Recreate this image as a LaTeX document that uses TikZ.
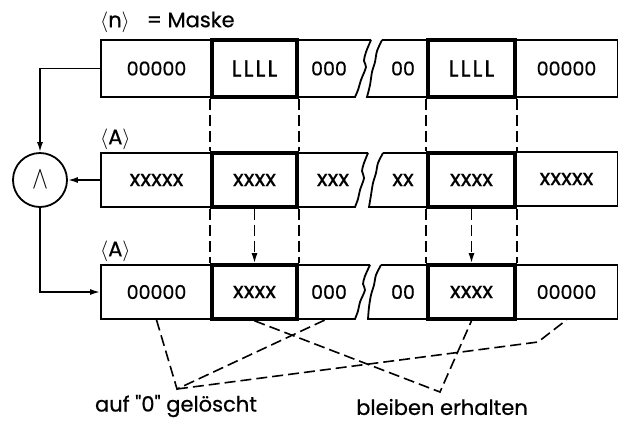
\documentclass[tikz,border=0pt]{standalone}
\usepackage{fontspec}
\usepackage{graphicx}
\newfontfamily\pop{Poppins}[FakeBold=0.6]
\usetikzlibrary{arrows.meta}
\newcommand\LLLL{{\fontsize{23}{23}\selectfont L\kern2pt L\kern2pt L\kern2pt L}}
\begin{document}
\begin{tikzpicture}[x=1pt,y=-1pt,
  txt/.style={font=\pop\fontsize{19}{19}\selectfont},
  xtxt/.style={font=\pop\fontsize{22.5}{22.5}\selectfont},
  btxt/.style={font=\pop\fontsize{21}{21}\selectfont},
  cell/.style={draw, line width=1.8pt, inner sep=0pt, txt},
  hcell/.style={draw, line width=3.6pt, inner sep=0pt, txt},
  piece/.style={draw, line width=1.8pt},
  dline/.style={line width=1.6pt, dash pattern=on 11pt off 5pt},
  conn/.style={line width=1.7pt, -{Latex[length=10pt,width=6pt]}},
  lbl/.style={anchor=west, inner sep=0pt, font=\pop\fontsize{21}{21}\selectfont}]
\useasboundingbox (0,0) rectangle (620,421);

% title labels
\node[lbl] (tn) at (100,22) {$\langle$n$\rangle$\hspace{17pt}= Maske};
\node[lbl] (ta1) at (100,139) {$\langle$A$\rangle$};
\node[lbl] (ta2) at (100,251) {$\langle$A$\rangle$};

% row 1
\node[cell, minimum width=111pt, minimum height=57pt] (r1a) at (156.5,68.5) {00000};
\draw[piece] (297,40) -- (371,40) plot[smooth] coordinates {(371,40) (366,52) (364,61) (366,67) (361,80) (358,90) (355,97)} -- (297,97);
\draw[piece] (428,40) -- (382,40) plot[smooth] coordinates {(382,40) (377,51) (375,62) (372,72) (370,85) (367,97)} -- (428,97);
\node[txt] (r1c) at (329,68.5) {000};
\node[txt] (r1d) at (403,68.5) {00};
\node[cell, minimum width=102pt, minimum height=57pt] (r1f) at (566.5,68.5) {00000};
\node[hcell, minimum width=85pt, minimum height=57pt] (r1b) at (254.5,68.5) {\LLLL};
\node[hcell, minimum width=87pt, minimum height=57pt] (r1e) at (471.5,68.5) {\LLLL};

% row 2
\node[cell, xtxt, minimum width=111pt, minimum height=54pt] (r2a) at (156.5,180) {xxxxx};
\draw[piece] (297,153) -- (368,153) plot[smooth] coordinates {(368,153) (364,163) (362,171) (364,178) (360,190) (358,199) (355,207)} -- (297,207);
\draw[piece] (428,153) -- (383,153) plot[smooth] coordinates {(383,153) (378,163) (376,173) (373,183) (371,195) (369,207)} -- (428,207);
\node[xtxt] (r2c) at (333,180) {xxx};
\node[xtxt] (r2d) at (403,180) {xx};
\node[cell, xtxt, minimum width=102pt, minimum height=54pt] (r2f) at (566.5,179) {xxxxx};
\node[hcell, xtxt, minimum width=85pt, minimum height=54pt] (r2b) at (254.5,180) {xxxx};
\node[hcell, xtxt, minimum width=87pt, minimum height=54pt] (r2e) at (471.5,180) {xxxx};

% row 3
\node[cell, minimum width=111pt, minimum height=54pt] (r3a) at (156.5,292) {00000};
\draw[piece] (297,265) -- (370,265) plot[smooth] coordinates {(370,265) (365,276) (363,284) (365,290) (360,302) (358,311) (355,319)} -- (297,319);
\draw[piece] (428,265) -- (381,265) plot[smooth] coordinates {(381,265) (376,275) (374,285) (371,295) (369,307) (368,319)} -- (428,319);
\node[txt] (r3c) at (329,292) {000};
\node[txt] (r3d) at (403,292) {00};
\node[cell, minimum width=102pt, minimum height=54pt] (r3f) at (566.5,292) {00000};
\node[hcell, xtxt, minimum width=85pt, minimum height=54pt] (r3b) at (254.5,292) {xxxx};
\node[hcell, xtxt, minimum width=87pt, minimum height=54pt] (r3e) at (471.5,292) {xxxx};

% AND circle
\node[draw, circle, line width=1.8pt, minimum size=54pt, inner sep=0pt] (and) at (40,180) {\scalebox{2.4}[3.2]{$\wedge$}};

% connectors
\draw[conn] (r1a.west) -| (and.north);
\draw[conn] (r2a.west) -- (and.east);
\draw[conn] (and.south) |- (r3a.west);

% dashed verticals
\foreach \c in {b,e} {
  \draw[dline] (r1\c.south west) -- (r2\c.north west);
  \draw[dline] (r1\c.south east) -- (r2\c.north east);
  \draw[dline] (r2\c.south west) -- (r3\c.north west);
  \draw[dline] (r2\c.south east) -- (r3\c.north east);
  \draw[dline, -{Latex[length=10pt,width=6pt]}] (r2\c.south) -- (r3\c.north);
}

% bottom labels
\node[btxt, inner sep=0pt] (del) at (176,406) {auf "0" gelöscht};
\node[btxt, inner sep=0pt] (keep) at (442,407) {bleiben erhalten};
\coordinate (g) at (177,389);
\coordinate (h) at (440,392);
\coordinate (k) at (538,342);
\coordinate (r3cb) at (327,319);
\draw[dline] (r3a.south) -- (g) -- (r3cb);
\draw[dline] (g) -- (k) -- (r3f.south);
\draw[dline] (r3b.south) -- (h) -- (r3e.south);
\end{tikzpicture}
\end{document}
